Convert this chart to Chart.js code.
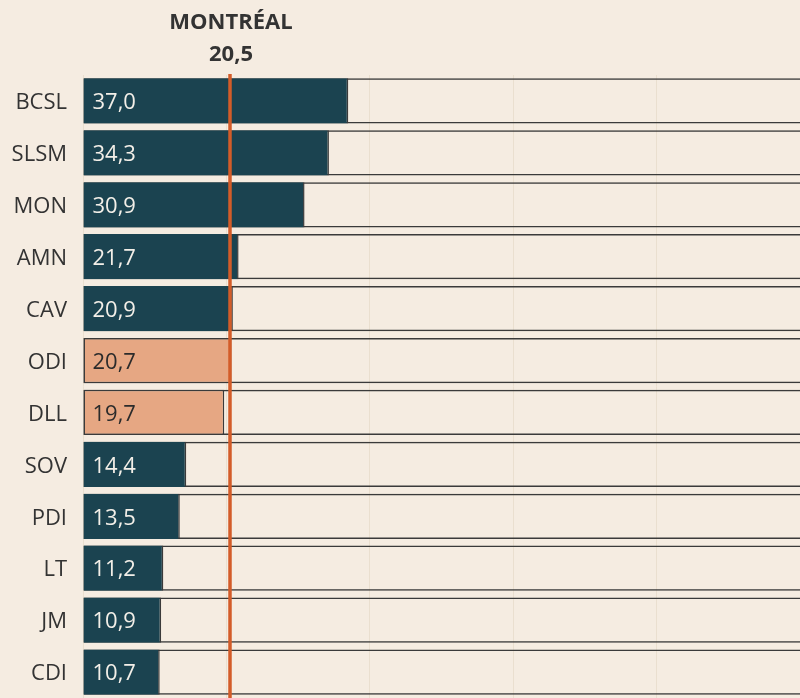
<!DOCTYPE html>
<html>
<head>
<meta charset="utf-8">
<script src="https://cdn.jsdelivr.net/npm/chart.js@4/dist/chart.umd.min.js"></script>
<style>
  html, body { margin: 0; padding: 0; background: #f5ece1; }
  #wrap { width: 800px; height: 698px; position: relative; }
</style>
</head>
<body>
<div id="wrap"><canvas id="chart"></canvas></div>
<script>
const categories = ['BCSL', 'SLSM', 'MON', 'AMN', 'CAV', 'ODI', 'DLL', 'SOV', 'PDI', 'LT', 'JM', 'CDI'];
const values = [37.0, 34.3, 30.9, 21.7, 20.9, 20.7, 19.7, 14.4, 13.5, 11.2, 10.9, 10.7];
const highlighted = ['ODI', 'DLL'];
const trackMax = 100;
const montrealLabel = 'MONTRÉAL';
const montrealValue = 20.5;

const font = '"Open Sans", "Noto Sans", sans-serif';
const fmt = v => v.toFixed(1).replace('.', ',');

const isHi = c => highlighted.includes(c);

// labels inside the bars + the Montréal reference line
const overlay = {
  id: 'overlay',
  afterDatasetsDraw(chart) {
    const ctx = chart.ctx;
    const area = chart.chartArea;
    const meta = chart.getDatasetMeta(0);
    ctx.save();
    ctx.font = '22px ' + font;
    ctx.textAlign = 'left';
    ctx.textBaseline = 'middle';
    meta.data.forEach((bar, i) => {
      ctx.fillStyle = isHi(categories[i]) ? '#2b2b2b' : '#f3efe8';
      ctx.fillText(fmt(values[i]), bar.base + 9, bar.y + 2);
    });

    const x = Math.round(chart.scales.x.getPixelForValue(montrealValue));
    ctx.strokeStyle = '#d35c29';
    ctx.lineWidth = 3.5;
    ctx.beginPath();
    ctx.moveTo(x, area.top - 1);
    ctx.lineTo(x, chart.height);
    ctx.stroke();

    ctx.fillStyle = '#333333';
    ctx.textAlign = 'center';
    ctx.font = 'bold 22px ' + font;
    ctx.fillText(montrealLabel, x + 1, 23);
    ctx.fillText(fmt(montrealValue), x + 1, 55);
    ctx.restore();
  }
};

new Chart(document.getElementById('chart'), {
  type: 'bar',
  data: {
    labels: categories,
    datasets: [
      {
        label: 'Valeur',
        data: values,
        order: 0,
        grouped: false,
        backgroundColor: categories.map(c => isHi(c) ? '#e6a783' : '#1b4350'),
        borderColor: '#3a3a3a',
        borderWidth: categories.map(c => isHi(c) ? 1.5 : { top: 0, bottom: 0, left: 0, right: 1.5 }),
        borderSkipped: false,
        barPercentage: 0.87,
        categoryPercentage: 1
      },
      {
        label: 'Fond',
        data: categories.map(() => trackMax),
        order: 1,
        grouped: false,
        backgroundColor: 'rgba(0,0,0,0)',
        borderColor: '#3a3a3a',
        borderWidth: { top: 1.5, bottom: 1.5, left: 1.5, right: 0 },
        borderSkipped: false,
        barPercentage: 0.87,
        categoryPercentage: 1
      }
    ]
  },
  options: {
    indexAxis: 'y',
    responsive: true,
    maintainAspectRatio: false,
    animation: false,
    layout: { padding: { top: 75, right: 0, bottom: 0, left: 0 } },
    plugins: {
      legend: { display: false },
      tooltip: { enabled: false }
    },
    scales: {
      x: {
        min: 0,
        max: trackMax,
        afterFit(scale) { scale.height = 0; },
        ticks: { display: false, stepSize: 20 },
        grid: { color: '#eadfcf', lineWidth: 1, drawTicks: false },
        border: { display: false }
      },
      y: {
        afterFit(scale) {
          scale.width = 83;
          scale.paddingTop = 0;
          scale.paddingBottom = 0;
        },
        ticks: {
          color: '#333333',
          font: { family: font, size: 22 },
          padding: 16,
          labelOffset: 2
        },
        grid: { display: false, drawTicks: false },
        border: { display: false }
      }
    }
  },
  plugins: [overlay]
});
</script>
</body>
</html>
